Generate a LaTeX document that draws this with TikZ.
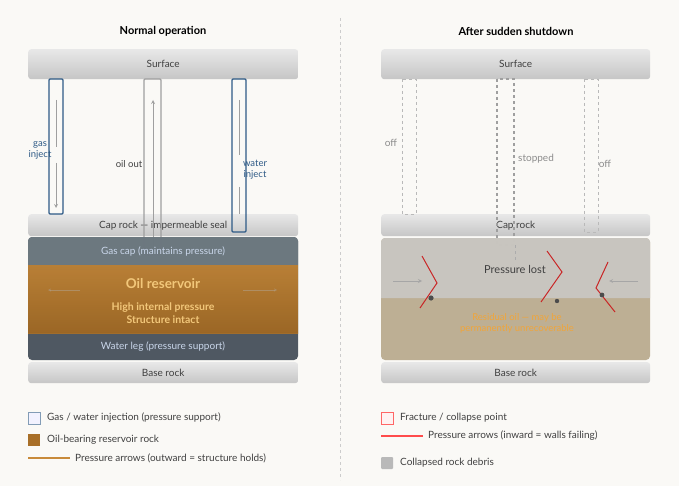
\documentclass[tikz,border=0pt]{standalone}
\usepackage{fontspec}
\setmainfont{Lato}
\definecolor{gascap}{HTML}{6F7B82}
\definecolor{waterleg}{HTML}{414B56}
\definecolor{oiltop}{HTML}{C88A3A}
\definecolor{oilbot}{HTML}{A86F28}
\definecolor{oiltext}{HTML}{F2C77A}
\definecolor{lighttxt}{HTML}{C9D6EA}
\definecolor{wellblue}{HTML}{2E5A86}
\definecolor{bg}{HTML}{FAF9F6}
\definecolor{lostgray}{HTML}{C9C7C3}
\definecolor{restan}{HTML}{B8A98C}
\definecolor{restext}{HTML}{F0A53A}
\begin{document}
\begin{tikzpicture}[x=1pt,y=-1pt,font=\fontsize{10}{12}\selectfont,
 rock/.style={draw=none,top color=gray!18,bottom color=gray!45,rounded corners=3pt},
 lbl/.style={text=black!75,inner sep=1pt},
 well/.style={draw=#1,line width=1.1pt,rounded corners=1pt},
 dwell/.style={draw=#1,dashed,line width=0.8pt},
 frac/.style={draw=red!75!black!85,line width=1pt},
 parr/.style={draw=gray!70,line width=0.8pt,->,>=stealth}]
\fill[bg] (0,0) rectangle (679,486);
\useasboundingbox (0,0) rectangle (679,486);
\draw[gray!40,dashed] (340,18) -- (340,480);
\node[font=\fontsize{11}{13}\selectfont\bfseries] (t1) at (163,31) {Normal operation};
\node[font=\fontsize{11}{13}\selectfont\bfseries] (t2) at (516,31) {After sudden shutdown};
% ---------- left
\node[rock,minimum width=270,minimum height=30,anchor=north west,lbl] (s1) at (28,49) {Surface};
\node[rock,minimum width=270,minimum height=22,anchor=north west,lbl] (c1) at (28,214) {Cap rock — impermeable seal};
\node[rock,minimum width=270,minimum height=21,anchor=north west,lbl] (b1) at (28,362) {Base rock};
\draw[well=wellblue] (49,79) rectangle (63,214);
\draw[well=gray!75] (144,79) rectangle (161,255);
\draw[well=wellblue] (232,79) rectangle (246,232);
\draw[gray!75,line width=0.8pt] (56,100) -- (56,147);
\draw[gray!75,line width=0.8pt,->,>=stealth] (56,163) -- (56,208);
\draw[gray!75,line width=0.8pt,->,>=stealth] (153,255) -- (153,100);
\draw[gray!75,line width=0.8pt] (239,100) -- (239,155) (239,187) -- (239,214);
\begin{scope}[opacity=0.92]
\fill[rounded corners=4pt,fill=waterleg] (28,237) rectangle (298,360);
\fill[fill=gascap] (28,265) [rounded corners=4pt] -- (28,237) -- (298,237) [sharp corners] -- (298,265) -- cycle;
\fill[top color=oiltop,bottom color=oilbot] (28,265) rectangle (298,333);
\end{scope}
\node[lbl,text=lighttxt] (gc) at (163,251) {Gas cap (maintains pressure)};
\node[font=\fontsize{13.5}{16}\selectfont\bfseries,text=oiltext] (or) at (163,284) {Oil reservoir};
\node[font=\fontsize{10.5}{13}\selectfont\bfseries,text=oiltext,align=center] (hp) at (163,313) {High internal pressure\\Structure intact};
\node[lbl,text=lighttxt] (wl) at (163,347) {Water leg (pressure support)};
\draw[gray!60,opacity=0.4,->,>=stealth] (80,290) -- (48,290);
\draw[gray!60,opacity=0.4,->,>=stealth] (243,290) -- (277,290);
\node[lbl,text=wellblue,align=center,font=\fontsize{9.5}{11}\selectfont] (gi) at (40,150) {gas\\inject};
\node[lbl,font=\fontsize{9.5}{11}\selectfont] (oo) at (129,164) {oil out};
\node[lbl,text=wellblue,align=center,font=\fontsize{9.5}{11}\selectfont] (wi) at (255,170) {water\\inject};
% ---------- right
\node[rock,minimum width=269,minimum height=30,anchor=north west,lbl] (s2) at (381,49) {Surface};
\node[rock,minimum width=269,minimum height=22,anchor=north west,lbl] (c2) at (381,214) {Cap rock};
\node[rock,minimum width=269,minimum height=21,anchor=north west,lbl] (b2) at (381,362) {Base rock};
\draw[dwell=gray!55] (402,79) rectangle (416,214);
\draw[dwell=gray!75,line width=1.1pt] (497,79) rectangle (514,245);
\draw[dwell=gray!55] (584,79) rectangle (598,232);
\begin{scope}[opacity=0.92]
\fill[rounded corners=4pt,fill=restan] (381,238) rectangle (650,360);
\fill[fill=lostgray] (381,298) [rounded corners=4pt] -- (381,238) -- (650,238) [sharp corners] -- (650,298) -- cycle;
\end{scope}
\draw[gray!65,dashed] (515,245) -- (515,262);
\node[lbl,font=\fontsize{11}{13}\selectfont] (pl) at (515,269) {Pressure lost};
\node[text=restext,align=center,font=\fontsize{9.5}{11}\selectfont] (ro) at (517,323) {Residual oil — may be\\permanently unrecoverable};
\node[lbl,text=gray!90] (o1) at (391,143) {off};
\node[lbl,text=gray!90] (st) at (536,159) {stopped};
\node[lbl,text=gray!90] (o2) at (605,164) {off};
\draw[frac] (422,256) -- (437,283) -- (420,308);
\draw[frac] (547,251) -- (562,272) -- (541,302);
\draw[frac] (608,262) -- (596,288) -- (615,312);
\draw[parr] (393,281) -- (422,281);
\draw[parr] (638,281) -- (609,281);
\fill[gray!60!black] (431,298) circle (2.6);
\fill[gray!60!black] (557,301) circle (2.2);
\fill[gray!60!black] (602,295) circle (2.4);
% ---------- legend
\draw[wellblue!60,fill=blue!5] (28,412) rectangle (40,424);
\node[lbl,anchor=west] (l1) at (46,418) {Gas / water injection (pressure support)};
\fill[oilbot] (28,434) rectangle (40,446);
\node[lbl,anchor=west] (l2) at (46,440) {Oil-bearing reservoir rock};
\draw[oiltop,line width=1.4pt] (28,458) -- (70,458);
\node[lbl,anchor=west] (l3) at (74,458) {Pressure arrows (outward = structure holds)};
\draw[red!60,fill=red!5] (381,412) rectangle (393,424);
\node[lbl,anchor=west] (r1) at (399,418) {Fracture / collapse point};
\draw[red!70,line width=1.4pt] (381,436) -- (423,436);
\node[lbl,anchor=west] (r2) at (427,436) {Pressure arrows (inward = walls failing)};
\fill[gray!55,rounded corners=1pt] (381,457) rectangle (393,469);
\node[lbl,anchor=west] (r3) at (399,463) {Collapsed rock debris};
\end{tikzpicture}
\end{document}
